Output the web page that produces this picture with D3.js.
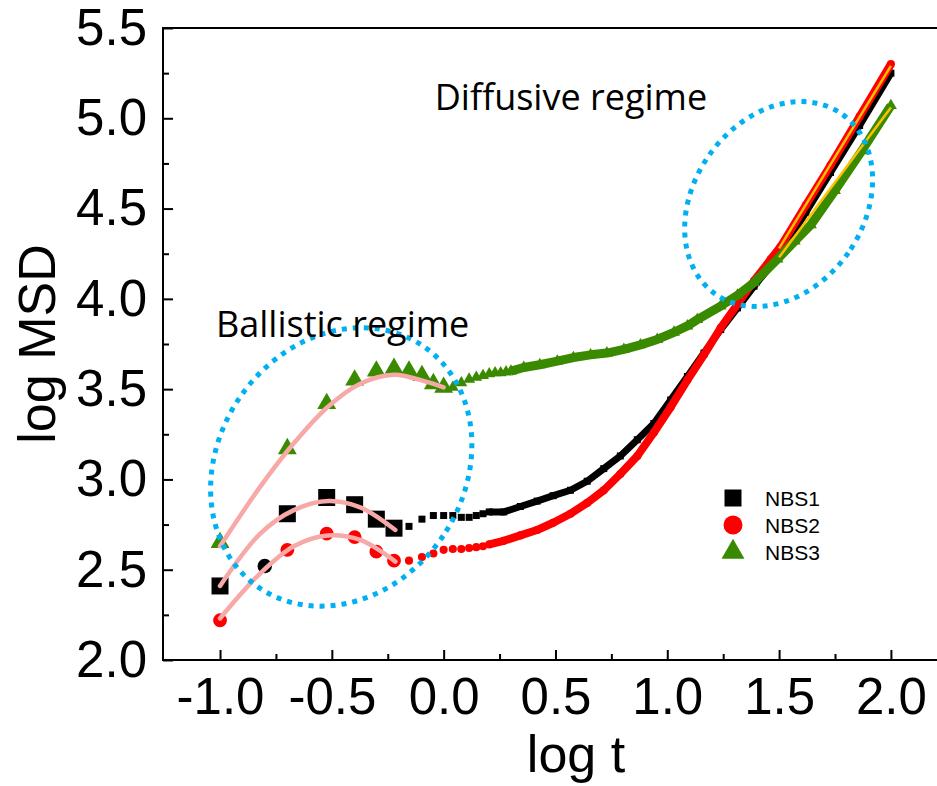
<!DOCTYPE html>
<html lang="en">
<head>
<meta charset="utf-8">
<title>log MSD vs log t</title>
<script src="https://cdn.jsdelivr.net/npm/d3@7"></script>
<style>
  body { margin: 0; background: #fff; }
  svg { display: block; font-family: "Liberation Sans", Arial, sans-serif; }
  .axis text { font-size: 51px; fill: #000; font-family: "Liberation Sans", Arial, sans-serif; }
  .axis line { stroke: #000; stroke-width: 2px; }
  .axis .domain { display: none; }
  .title { font-size: 52px; }
  .note { font-family: "Open Sans", sans-serif; font-size: 36px; }
  .legend text { font-size: 21px; }
</style>
</head>
<body>
<script>
// (log t, log MSD)
var nbs1LogT   = [-1.0, -0.699, -0.523, -0.398, -0.301, -0.222, -0.155, -0.097, -0.046, 0.0,
                  0.041, 0.079, 0.114, 0.146, 0.176, 0.204, 0.269, 0.343, 0.418, 0.49,
                  0.567, 0.642, 0.716, 0.79, 0.866, 0.94, 1.015, 1.09, 1.164, 1.239,
                  1.314, 1.388, 1.507, 1.62, 1.73, 1.86, 2.0];
var nbs1LogMSD = [2.41, 2.81, 2.90, 2.86, 2.78, 2.73, 2.74, 2.78, 2.80, 2.80,
                  2.80, 2.79, 2.79, 2.80, 2.81, 2.82, 2.82, 2.85, 2.88, 2.91,
                  2.94, 2.99, 3.06, 3.13, 3.22, 3.31, 3.44, 3.57, 3.70, 3.83,
                  3.95, 4.07, 4.25, 4.48, 4.70, 4.96, 5.25];

var nbs2LogT   = [-1.0, -0.699, -0.523, -0.398, -0.301, -0.222, -0.155, -0.097, -0.046, 0.0,
                  0.041, 0.079, 0.114, 0.146, 0.176, 0.204, 0.269, 0.343, 0.418, 0.49,
                  0.567, 0.642, 0.716, 0.79, 0.866, 0.94, 1.015, 1.09, 1.164, 1.239,
                  1.314, 1.388, 1.463, 1.507, 1.62, 1.73, 1.86, 2.0];
var nbs2LogMSD = [2.22, 2.61, 2.70, 2.68, 2.60, 2.55, 2.55, 2.57, 2.59, 2.61,
                  2.615, 2.615, 2.62, 2.625, 2.63, 2.64, 2.66, 2.69, 2.72, 2.76,
                  2.81, 2.87, 2.94, 3.03, 3.13, 3.26, 3.40, 3.55, 3.69, 3.84,
                  3.97, 4.10, 4.22, 4.29, 4.52, 4.74, 5.01, 5.30];

var nbs3LogT   = [-1.0, -0.699, -0.523, -0.398, -0.301, -0.222, -0.155, -0.097, -0.046, 0.0,
                  0.041, 0.079, 0.114, 0.146, 0.176, 0.204, 0.230, 0.255, 0.279, 0.301,
                  0.358, 0.43, 0.508, 0.58, 0.657, 0.73, 0.806, 0.88, 0.955, 1.03,
                  1.09, 1.134, 1.239, 1.314, 1.388, 1.493, 1.57, 1.642, 1.75, 1.87, 2.0];
var nbs3LogMSD = [2.65, 3.17, 3.42, 3.55, 3.60, 3.615, 3.60, 3.575, 3.53, 3.51,
                  3.51, 3.535, 3.555, 3.565, 3.575, 3.585, 3.59, 3.59, 3.595, 3.60,
                  3.62, 3.635, 3.655, 3.675, 3.69, 3.70, 3.72, 3.745, 3.775, 3.815,
                  3.85, 3.885, 3.96, 4.02, 4.09, 4.22, 4.32, 4.41, 4.60, 4.82, 5.07];

// the lone black dot
var strayLogT = [-0.80], strayLogMSD = [2.52];

// ballistic fits (pink)
var fit1LogT = [-1.0, -0.82, -0.67, -0.515, -0.373, -0.216];
var fit1LogMSD = [2.41, 2.70, 2.83, 2.88, 2.845, 2.72];
var fit2LogT = [-1.0, -0.82, -0.67, -0.52, -0.373, -0.216];
var fit2LogMSD = [2.23, 2.48, 2.63, 2.69, 2.665, 2.545];
var fit3LogT = [-1.0, -0.82, -0.67, -0.52, -0.373, -0.224, -0.075, 0.0];
var fit3LogMSD = [2.63, 2.96, 3.20, 3.40, 3.53, 3.58, 3.54, 3.51];

// diffusive fits (yellow)
var fitRedLogT = [1.5, 2.0], fitRedLogMSD = [4.28, 5.29];
var fitGreenLogT = [1.5, 2.0], fitGreenLogMSD = [4.23, 5.06];

var xTicks = [-1.0, -0.5, 0.0, 0.5, 1.0, 1.5, 2.0];
var xMinor = [-0.75, -0.25, 0.25, 0.75, 1.25, 1.75];
var yTicks = [2.0, 2.5, 3.0, 3.5, 4.0, 4.5, 5.0, 5.5];
var yMinor = [2.25, 2.75, 3.25, 3.75, 4.25, 4.75, 5.25];
var seriesNames = ["NBS1", "NBS2", "NBS3"];

var width = 937, height = 786;
var plotLeft = 163, plotTop = 28, plotRight = 941, plotBottom = 660;

var svg = d3.select("body").append("svg")
    .attr("width", width)
    .attr("height", height);
svg.append("rect").attr("width", width).attr("height", height).attr("fill", "#fff");

var x = d3.scaleLinear().domain([-1.255, 2.224]).range([plotLeft, plotRight]);
var y = d3.scaleLinear().domain([2.0, 5.5]).range([plotBottom, plotTop]);

var fmt = function(d) { return d.toFixed(1); };

// axes, ticks pointing inwards
svg.append("g").attr("class", "axis")
    .attr("transform", "translate(0," + plotBottom + ")")
    .call(d3.axisBottom(x).tickValues(xTicks).tickFormat(fmt).tickSize(-10).tickSizeOuter(0).tickPadding(18));
svg.append("g").attr("class", "axis")
    .attr("transform", "translate(0," + plotBottom + ")")
    .call(d3.axisBottom(x).tickValues(xMinor).tickFormat("").tickSize(-6).tickSizeOuter(0));
svg.append("g").attr("class", "axis")
    .attr("transform", "translate(" + plotLeft + ",0)")
    .call(d3.axisLeft(y).tickValues(yTicks).tickFormat(fmt).tickSize(-10).tickSizeOuter(0).tickPadding(16));
svg.append("g").attr("class", "axis")
    .attr("transform", "translate(" + plotLeft + ",0)")
    .call(d3.axisLeft(y).tickValues(yMinor).tickFormat("").tickSize(-6).tickSizeOuter(0));

// frame
svg.append("path")
    .attr("d", "M" + plotRight + "," + plotTop + "H" + plotLeft + "V" + plotBottom + "H" + plotRight)
    .attr("fill", "none").attr("stroke", "#000").attr("stroke-width", 2);

svg.append("text").attr("class", "title")
    .attr("transform", "translate(55,344) rotate(-90)")
    .attr("text-anchor", "middle")
    .text("log MSD");
svg.append("text").attr("class", "title")
    .attr("x", 576).attr("y", 772)
    .attr("text-anchor", "middle")
    .text("log t");

function pts(xs, ys) { return xs.map(function(v, i) { return [v, ys[i]]; }); }

var line = d3.line().x(function(d) { return x(d[0]); }).y(function(d) { return y(d[1]); });
var smooth = d3.line().curve(d3.curveCatmullRom).x(function(d) { return x(d[0]); }).y(function(d) { return y(d[1]); });

var series = [
  {data: pts(nbs1LogT, nbs1LogMSD), color: "#000", shape: d3.symbolSquare, big: 289, small: 49, nBig: 6, bandFrom: 15, band: 7},
  {data: pts(nbs2LogT, nbs2LogMSD), color: "#ff0000", shape: d3.symbolCircle, big: 150, small: 52, nBig: 6, bandFrom: 15, band: 8},
  {data: pts(nbs3LogT, nbs3LogMSD), color: "#3a8a00", shape: d3.symbolTriangle, big: 155, small: 62, nBig: 10, bandFrom: 19, band: 9}
];

series.forEach(function(s) {
  var g = svg.append("g");
  // dense tail: the markers merge into a thick band
  g.append("path")
    .attr("d", line(s.data.slice(s.bandFrom)))
    .attr("fill", "none").attr("stroke", s.color)
    .attr("stroke-width", s.band).attr("stroke-linejoin", "round");
  g.selectAll("path.pt").data(s.data).join("path")
    .attr("class", "pt")
    .attr("transform", function(d) { return "translate(" + x(d[0]) + "," + y(d[1]) + ")"; })
    .attr("d", function(d, i) { return d3.symbol(s.shape, i < s.nBig ? s.big : s.small)(); })
    .attr("fill", s.color);
});

svg.selectAll("path.stray").data(pts(strayLogT, strayLogMSD)).join("path")
  .attr("class", "stray")
  .attr("transform", function(d) { return "translate(" + x(d[0]) + "," + y(d[1]) + ")"; })
  .attr("d", d3.symbol(d3.symbolCircle, 165)())
  .attr("fill", "#000");

// yellow linear fits in the diffusive part
[pts(fitRedLogT, fitRedLogMSD), pts(fitGreenLogT, fitGreenLogMSD)].forEach(function(f) {
  svg.append("path").attr("d", line(f))
    .attr("fill", "none").attr("stroke", "#ffc000").attr("stroke-width", 2.5);
});

// pink fits in the ballistic part
[pts(fit1LogT, fit1LogMSD), pts(fit2LogT, fit2LogMSD), pts(fit3LogT, fit3LogMSD)].forEach(function(f) {
  svg.append("path").attr("d", smooth(f))
    .attr("fill", "none").attr("stroke", "#f7a9a8").attr("stroke-width", 4.5)
    .attr("stroke-linecap", "round");
});

// dotted regime outlines
var rings = [
  {cx: -0.458, cy: 3.069, rx: 123, ry: 146, rot: 34},
  {cx: 1.498, cy: 4.525, rx: 85, ry: 110, rot: 35}
];
svg.selectAll("ellipse.ring").data(rings).join("ellipse")
  .attr("class", "ring")
  .attr("transform", function(d) { return "translate(" + x(d.cx) + "," + y(d.cy) + ") rotate(" + d.rot + ")"; })
  .attr("rx", function(d) { return d.rx; })
  .attr("ry", function(d) { return d.ry; })
  .attr("fill", "none").attr("stroke", "#00b0f0")
  .attr("stroke-width", 5).attr("stroke-dasharray", "5 6");

svg.append("text").attr("class", "note")
  .attr("x", x(-1.018)).attr("y", y(3.788)).text("Ballistic regime");
svg.append("text").attr("class", "note")
  .attr("x", x(-0.04)).attr("y", y(5.045)).text("Diffusive regime");

// legend
var legend = svg.append("g").attr("class", "legend");
var legendShapes = [[d3.symbolSquare, 289, "#000"], [d3.symbolCircle, 283, "#ff0000"], [d3.symbolTriangle, 229, "#3a8a00"]];
seriesNames.forEach(function(name, i) {
  var row = legend.append("g").attr("transform", "translate(733," + (498 + i * 27) + ")");
  row.append("path")
    .attr("d", d3.symbol(legendShapes[i][0], legendShapes[i][1])())
    .attr("fill", legendShapes[i][2]);
  row.append("text").attr("x", 32).attr("dy", "0.36em").text(name);
});
</script>
</body>
</html>
